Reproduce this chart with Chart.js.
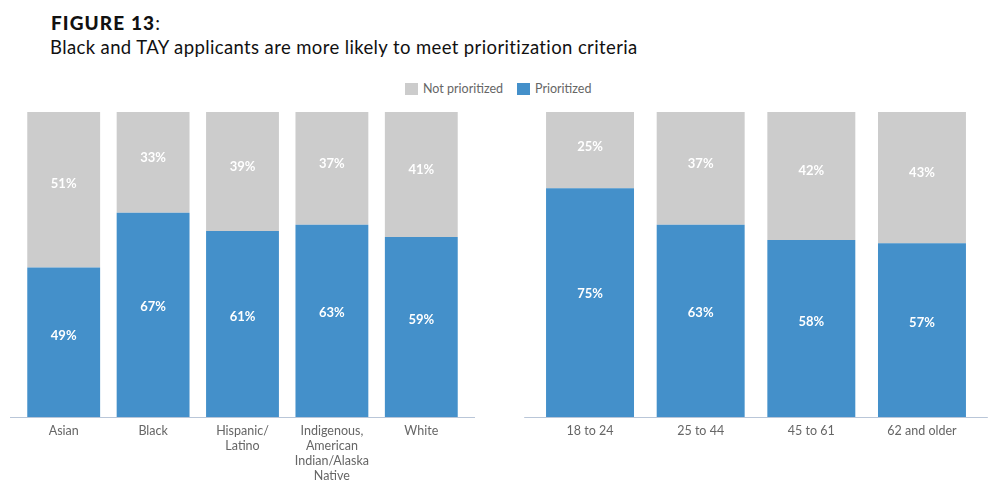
<!DOCTYPE html>
<html>
<head>
<meta charset="utf-8">
<script src="https://cdn.jsdelivr.net/npm/chart.js@4.4.1/dist/chart.umd.min.js"></script>
<style>
  html, body { margin: 0; padding: 0; background: #fff; }
  body { width: 1000px; height: 495px; position: relative; overflow: hidden; font-family: 'Lato', sans-serif; }
  #title { position: absolute; left: 51px; top: 11px; font-size: 19px; letter-spacing: 1.1px; color: #111; }
  #title b { font-weight: 900; }
  #subtitle { position: absolute; left: 50px; top: 36px; font-size: 18.5px; letter-spacing: 0.38px; color: #111; }
  #legend { position: absolute; left: 405px; top: 81px; font-size: 12.5px; color: #666; display: flex; align-items: center; }
  #legend span.box { display: inline-block; width: 13px; height: 12px; margin-right: 5px; }
  #legend span.item { display: flex; align-items: center; margin-right: 14px; }
  .wrap { position: absolute; top: 100px; height: 395px; }
</style>
</head>
<body>
<div id="title"><b>FIGURE 13</b>:</div>
<div id="subtitle">Black and TAY applicants are more likely to meet prioritization criteria</div>
<div id="legend">
  <span class="item"><span class="box" style="background:#cccccc"></span>Not prioritized</span>
  <span class="item"><span class="box" style="background:#4490ca"></span>Prioritized</span>
</div>
<div class="wrap" style="left:0;width:490px"><canvas id="chartRace"></canvas></div>
<div class="wrap" style="left:500px;width:500px"><canvas id="chartAge"></canvas></div>
<script>
const raceLabels = ['Asian', 'Black', ['Hispanic/', 'Latino'], ['Indigenous,', 'American', 'Indian/Alaska', 'Native'], 'White'];
const racePrioritized = [49, 67, 61, 63, 59];
const raceNotPrioritized = [51, 33, 39, 37, 41];

const ageLabels = ['18 to 24', '25 to 44', '45 to 61', '62 and older'];
const agePrioritized = [75, 63, 58, 57];
const ageNotPrioritized = [25, 37, 42, 43];

const BLUE = '#4490ca';
const GRAY = '#cccccc';

// values written inside each segment
const segmentLabels = {
   id: 'segmentLabels',
   afterDatasetsDraw(chart) {
      const ctx = chart.ctx;
      ctx.save();
      ctx.fillStyle = '#ffffff';
      ctx.font = "bold 13px 'Lato'";
      ctx.textAlign = 'center';
      ctx.textBaseline = 'middle';
      chart.data.datasets.forEach((ds, i) => {
         chart.getDatasetMeta(i).data.forEach((bar, j) => {
            const y = bar.y + (bar.base - bar.y) * 0.46;
            ctx.fillText(ds.data[j] + '%', bar.x, y);
         });
      });
      ctx.restore();
   }
};

// baseline a little wider than the plot area
const baseLine = {
   id: 'baseLine',
   afterDraw(chart, args, opts) {
      const { ctx, chartArea } = chart;
      ctx.save();
      ctx.strokeStyle = '#b9c6d8';
      ctx.lineWidth = 1.2;
      ctx.beginPath();
      ctx.moveTo(chartArea.left - opts.ext, chartArea.bottom + 0.5);
      ctx.lineTo(chartArea.right + opts.ext, chartArea.bottom + 0.5);
      ctx.stroke();
      ctx.restore();
   }
};

function makeChart(id, labels, prioritized, notPrioritized, pad, barPct, ext) {
   return new Chart(document.getElementById(id), {
      type: 'bar',
      data: {
         labels: labels,
         datasets: [
            { label: 'Prioritized', data: prioritized, backgroundColor: BLUE,
              categoryPercentage: 1, barPercentage: barPct },
            { label: 'Not prioritized', data: notPrioritized, backgroundColor: GRAY,
              categoryPercentage: 1, barPercentage: barPct }
         ]
      },
      options: {
         responsive: true,
         maintainAspectRatio: false,
         animation: false,
         layout: { padding: { left: pad[0], right: pad[1], top: 12, bottom: 0 } },
         scales: {
            x: {
               stacked: true,
               grid: { display: false, drawTicks: false },
               border: { display: false },
               ticks: {
                  color: '#666666',
                  padding: 6,
                  maxRotation: 0,
                  autoSkip: false,
                  font: { family: "'Lato'", size: 12.5, lineHeight: 1.22 }
               },
               afterFit: scale => { scale.height = 78; }
            },
            y: { stacked: true, display: false, min: 0, max: 100 }
         },
         plugins: {
            legend: { display: false },
            tooltip: { enabled: false },
            baseLine: { ext: ext }
         }
      },
      plugins: [segmentLabels, baseLine]
   });
}

makeChart('chartRace', raceLabels, racePrioritized, raceNotPrioritized, [19, 24], 0.815, 9);
makeChart('chartAge', ageLabels, agePrioritized, ageNotPrioritized, [34.7, 22.7], 0.795, 10.5);
</script>
</body>
</html>
